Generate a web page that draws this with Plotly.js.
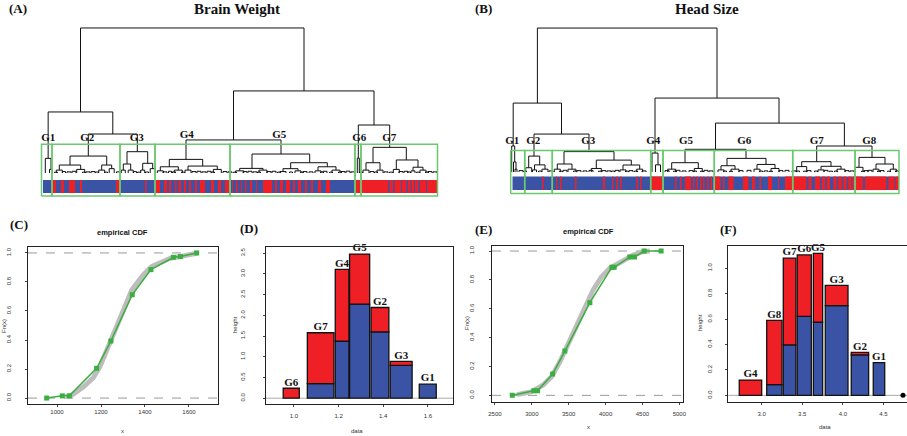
<!DOCTYPE html>
<html><head><meta charset="utf-8">
<script src="https://cdn.plot.ly/plotly-3.0.1.min.js"></script>
<style>html,body{margin:0;padding:0;overflow:hidden;background:#fff}#plot{width:920px;height:436px}</style>
</head><body><div id="plot"></div>
<script>
// ---------- DATA ----------
// Dendrogram A (Brain Weight): merges [xLeft, hLeft, xRight, hRight, height], x = leaf order position
const mergesA = [
 [37.5,42.1,261,56.6,100],[5.15,10.1,69.8,26.9,42.1],[45.3,11.7,94.3,14.7,26.9],[2.3,0,8,2.5,10.1],
 [27,5.5,63.7,5.5,11.7],[16.3,2,37.7,2.5,5.5],[58.7,2,68.7,3,5.5],[84,6.2,104.7,6.7,14.7],
 [80.3,2,87.7,2,6.2],[99.7,2,109.7,3,6.7],[190.5,22.8,331,33.1,56.6],[143,9.4,238,13.1,22.8],
 [126.3,4.3,159.7,4.8,9.4],[117.3,1.5,135.3,2,4.3],[145,2,174.3,2.5,4.8],[209,3.2,266.7,7.1,13.1],
 [196.7,1.5,220,2,3.2],[247.7,3,284.3,4.3,7.1],[275,1.5,293,2,4.3],[240,1,255,1.5,3],
 [315.3,10.3,346.7,17.7,33.1],[314.3,0,316.3,0,10.3],[330,7.1,363.3,9,17.7],[323,2,337,2,7.1],
 [353.3,2.5,375,4,9],[370,1.5,380,2,4]
];
// leaf-level small merges [centre, half width, height]
const fringeA = [
 [8,1.5,2.5],[16.3,3,2],[37.7,4,2.5],[58.7,3,2],[68.7,2.5,3],[80.3,2,2],[87.7,2.5,2],[99.7,2,2],[109.7,2.5,3],
 [117.3,3,1.5],[135.3,4,2],[145,3,2],[174.3,4,2.5],[196.7,4,1.5],[220,4,2],[240,3,1],[255,3,1.5],[275,3,1.5],
 [293,4,2],[323,3,2],[337,3,2],[353.3,3,2.5],[370,2,1.5],[380,3,2],
 [21,1.5,1],[26,2,0.8],[31,2,1.2],[45,2,0.8],[50,2,1],[75,1.5,0.8],[92,1.5,1],[122,2,0.8],[127,1.5,1.2],
 [131,1.5,0.8],[151,2,1],[156,2,1.2],[161,2,0.8],[166,2,1.2],[182,2,1],[187,2,0.8],[202,2,1],[207,2,1.2],
 [212,2,0.8],[226,2,1],[231,2,1.2],[262,2,1],[268,2,0.8],[282,2,1.2],[300,2,1],[305,2,1.3],[310,2,0.8],
 [329,2,1],[343,2,0.8],[358,2,1],[363,2,1.2],[387,2,1],[392,2,0.8],
 [13,1.5,0.6],[41,1.5,0.6],[54,1.5,0.7],[63,1.5,0.6],[96,1.5,0.6],[104,1.5,0.7],[140,1.5,0.6],[170,1.5,0.7],
 [192,1.5,0.6],[216,1.5,0.7],[236,1.5,0.6],[248,1.5,0.7],[259,1.5,0.6],[279,1.5,0.7],[288,1.5,0.6],[297,1.5,0.7],
 [318,1.5,0.6],[333,1.5,0.7],[348,1.5,0.6],[366,1.5,0.7],[375,1.5,0.6],[384,1.5,0.7]
];
const groupEdgesA = [-1.5, 9, 77, 112, 187, 312, 318, 394.5];
const groupNamesA = ['G1','G2','G3','G4','G5','G6','G7'];
const labelXA = [5.3, 44.3, 93.7, 143.7, 236.3, 316.3, 346.3];
const labelHA = [24.3, 24.3, 24.3, 26.2, 26.2, 24.3, 24.3];
const stripeSpanA = [0, 395];
const redStripesA = [
 [10,13],[18,21],[26,32],[37,39],[73,76],[102,103.5],
 [113,117],[121,124],[126,128],[132,133.5],[135.5,138],[141,143],[146,148],[152,154],[157,162],[168,171],[175,178],[182,186],
 [189,190],[193,194.5],[198,199],[202,203.5],[207,209],[213,214],[220,229],[232,234],[237,240],[243,247],[250,252],
 [255,258],[262,264],[268,270],[275,278],[283,287],
 [312,345],[346.5,350],[351.5,358],[359,363.5],[365,367.5],[368.5,371],[372,375.5],[377,383],[384,395]
];

// Dendrogram B (Head Size)
const mergesB = [
 [26.4,47.9,206,51.4,100],[2.2,18.1,50.5,26.4,47.9],[0.7,0,3.7,7,18.1],[2.5,0,5,2,7],
 [23,11.1,78,14.2,26.4],[17.7,3,28.7,5,11.1],[23.5,1.5,34,2,5],[53,5.6,103,8.3,14.2],
 [46.3,2,61,2,5.6],[85.3,2.5,120.3,4.9,8.3],[112,1.5,128.7,2,4.9],[144,13.2,268,34,51.4],
 [141,0,147,5,13.2],[144.5,0,149.5,0,5],[204.5,15.8,333.4,18.1,34],[174,6.5,235,9.5,15.8],
 [160.7,2,187.3,2.5,6.5],[216,4.4,255,5.3,9.5],[210,1.5,224,2,4.4],[246,2,264,2.5,5.3],
 [305.7,7.2,361,10.2,18.1],[290.7,3.8,320,4,7.2],[310,1.5,330,2,4],[348,3.3,374,5.6,10.2],
 [365,2,382.3,2,5.6]
];
const fringeB = [
 [5,1,2],[17.7,3,3],[23.5,2,1.5],[34,3,2],[46.3,3,2],[61,4,2],[85.3,5,2.5],[112,3,1.5],[128.7,3,2],
 [160.7,4,2],[187.3,4,2.5],[210,3,1.5],[224,4,2],[246,3,2],[264,4,2.5],[290.7,5,3.8],[310,3,1.5],
 [330,4,2],[348,4,3.3],[365,3,2],[382.3,3,2],
 [10,2,1],[40,2,0.8],[54,2,1.2],[68,2,1],[74,2,0.8],[80,2,1.2],[93,2,1],[98,2,0.8],[106,2,1.2],[120,2,1],
 [133,2,0.8],[156,2,1],[167,2,1.2],[173,2,0.8],[180,2,1],[195,2,1.2],[200,2,0.8],[230,2,1],[238,2,1.2],
 [255,2,0.8],[270,2,1],[276,2,1.2],[283,2,0.8],[298,2,1],[315,2,1.2],[336,2,1],[341,2,0.8],[355,2,1],
 [359,2,1.2],[371,2,1],[386,1.5,0.8],
 [14,1.5,0.6],[29,1.5,0.7],[50,1.5,0.6],[64,1.5,0.7],[89,1.5,0.6],[102,1.5,0.7],[116,1.5,0.6],[125,1.5,0.7],
 [164,1.5,0.6],[184,1.5,0.7],[191,1.5,0.6],[214,1.5,0.7],[220,1.5,0.6],[250,1.5,0.7],[260,1.5,0.6],
 [287,1.5,0.7],[294,1.5,0.6],[305,1.5,0.7],[320,1.5,0.6],[325,1.5,0.7],[352,1.5,0.6],[368,1.5,0.7],[378,1.5,0.6]
];
const groupEdgesB = [-0.3, 13.7, 41.3, 139.7, 152, 203.3, 281.7, 344, 388];
const groupNamesB = ['G1','G2','G3','G4','G5','G6','G7','G8'];
const labelXB = [1.3, 22.3, 77.3, 142.3, 175, 233.3, 305.7, 358.3];
const labelHB = [21.7, 21.7, 21.7, 21.7, 21.7, 21.7, 21.7, 21.7];
const stripeSpanB = [1.5, 388];
const redStripesB = [
 [31,32.5],[45,46.3],[49,50.5],[64,65.5],[92,94],[101,102.3],[105.5,107],[109,110.5],[125.5,127],[129,130.5],
 [140,151.5],
 [164,165.5],[169,170.5],[174,180],[182,183.5],[185.5,187],[189,190.5],[192,193.5],[196,197.5],[199.5,201],
 [203,209.5],[212,213.5],[217.5,222.5],[232,237.5],[241,244],[248.5,250],[257,261],[267,268],[274,295.5],
 [297.5,300.5],[304,309],[310.7,314],[315.7,319],[322.3,325.7],[327.3,330.7],[332.3,335.7],[337.3,340.5],
 [341.5,352],[354,375.5],[377.5,383.5],[384.5,388]
];

// (C) empirical CDF, brain weight
const cdfBrainX = [953, 1024, 1056, 1180, 1245, 1342, 1427, 1529, 1561, 1635];
const cdfBrainY = [0.0, 0.015, 0.015, 0.205, 0.393, 0.712, 0.885, 0.970, 0.975, 1.0];
const ecdfBrainX = [1040, 1067, 1120, 1165, 1195, 1241, 1271, 1301, 1340, 1362, 1392, 1430, 1468, 1514, 1559, 1620, 1640];
const ecdfBrainY = [0.01, 0.02, 0.078, 0.14, 0.216, 0.39, 0.50, 0.62, 0.745, 0.79, 0.848, 0.906, 0.929, 0.963, 0.975, 0.99, 1.0];
const cdfTicksBrain = [1000, 1200, 1400, 1600];

// (D) group histogram, brain weight
const groupsD = ['G6','G7','G4','G5','G2','G3','G1'];
const leftD  = [0.952, 1.060, 1.185, 1.249, 1.345, 1.431, 1.561];
const rightD = [1.024, 1.179, 1.246, 1.339, 1.425, 1.529, 1.637];
const blueD  = [0, 0.35, 1.38, 2.27, 1.60, 0.79, 0.34];
const totalD = [0.24, 1.58, 3.11, 3.48, 2.19, 0.89, 0.34];
const xTicksD = [1.0, 1.2, 1.4, 1.6];
const yTicksD = [0, 0.5, 1.0, 1.5, 2.0, 2.5, 3.0, 3.5];

// (E) empirical CDF, head size
const cdfHeadX = [2735, 3028, 3078, 3282, 3448, 3787, 4085, 4117, 4329, 4393, 4523, 4753];
const cdfHeadY = [0.0, 0.032, 0.032, 0.148, 0.307, 0.642, 0.887, 0.887, 0.959, 0.959, 1.0, 1.0];
const ecdfHeadX = [2800, 2997, 3154, 3268, 3381, 3471, 3584, 3696, 3832, 3946, 4058, 4238, 4374, 4509, 4600];
const ecdfHeadY = [0.005, 0.025, 0.072, 0.129, 0.233, 0.337, 0.453, 0.58, 0.73, 0.822, 0.88, 0.938, 0.972, 0.996, 1.0];
const cdfTicksHead = [2500, 3000, 3500, 4000, 4500, 5000];
const cdfYTicks = [0, 0.2, 0.4, 0.6, 0.8, 1.0];

// (F) group histogram, head size
const groupsF = ['G4','G8','G7','G6','G5','G3','G2','G1'];
const leftF  = [2.724, 3.062, 3.266, 3.438, 3.636, 3.783, 4.103, 4.374];
const rightF = [3.000, 3.250, 3.422, 3.611, 3.751, 4.063, 4.317, 4.515];
const blueF  = [0, 0.085, 0.397, 0.622, 0.577, 0.706, 0.318, 0.257];
const totalF = [0.12, 0.59, 1.08, 1.105, 1.118, 0.866, 0.339, 0.257];
const extraPointF = [[4.74, 0]];
const xTicksF = [3.0, 3.5, 4.0, 4.5];
const yTicksF = [0, 0.2, 0.4, 0.6, 0.8, 1.0];

// ---------- STYLE / LAYOUT ----------
const W = 920, H = 436;
const RED = '#EE1F25', BLUE = '#3A53A4', GREEN_BOX = '#6CC870', GREEN = '#3AAE3E';
const SERIF = 'Liberation Serif', SANS = 'Liberation Sans';
const dx = (a, b) => [a / W, b / W];
const dy = (top, bot) => [1 - bot / H, 1 - top / H];

const traces = [];

function dendro(merges, fringe, xa, ya) {
  const X = [], Y = [];
  merges.forEach(m => { X.push(m[0], m[0], m[2], m[2], null); Y.push(m[1], m[4], m[4], m[3], null); });
  fringe.forEach(f => { X.push(f[0]-f[1], f[0]-f[1], f[0]+f[1], f[0]+f[1], null); Y.push(0, f[2], f[2], 0, null); });
  traces.push({type:'scatter', mode:'lines', x:X, y:Y, xaxis:xa, yaxis:ya, line:{color:'#111', width:1}, hoverinfo:'skip'});
}
function stripes(span, reds, base, height, xa, ya) {
  traces.push({type:'bar', x:[(span[0]+span[1])/2], width:[span[1]-span[0]], base:[base], y:[height],
    xaxis:xa, yaxis:ya, marker:{color:BLUE, line:{width:0}}, hoverinfo:'skip'});
  traces.push({type:'bar', x:reds.map(r => (r[0]+r[1])/2), width:reds.map(r => r[1]-r[0]),
    base:reds.map(() => base), y:reds.map(() => height), xaxis:xa, yaxis:ya,
    marker:{color:RED, line:{width:0}}, hoverinfo:'skip'});
}
function boxes(edges, top, bot, xa, ya) {
  const X = [], Y = [];
  for (let i = 0; i < edges.length - 1; i++) {
    X.push(edges[i], edges[i+1], edges[i+1], edges[i], edges[i], null);
    Y.push(bot, bot, top, top, bot, null);
  }
  traces.push({type:'scatter', mode:'lines', x:X, y:Y, xaxis:xa, yaxis:ya, line:{color:GREEN_BOX, width:1.5}, hoverinfo:'skip'});
}
function glabels(xs, hs, names, xa, ya) {
  traces.push({type:'scatter', mode:'text', x:xs, y:hs, text:names.map(n => '<b>'+n+'</b>'),
    textposition:'middle center', textfont:{family:SERIF, size:11, color:'#111'},
    xaxis:xa, yaxis:ya, cliponaxis:false, hoverinfo:'skip'});
}

// A
dendro(mergesA, fringeA, 'x', 'y');
stripes(stripeSpanA, redStripesA, -13.8, 9, 'x', 'y');
boxes(groupEdgesA, 19.8, -15.9, 'x', 'y');
glabels(labelXA, labelHA, groupNamesA, 'x', 'y');
// B
dendro(mergesB, fringeB, 'x2', 'y2');
stripes(stripeSpanB, redStripesB, -12.5, 9.4, 'x2', 'y2');
boxes(groupEdgesB, 14.9, -14.9, 'x2', 'y2');
glabels(labelXB, labelHB, groupNamesB, 'x2', 'y2');

// C
traces.push({type:'scatter', mode:'lines', x:ecdfBrainX, y:ecdfBrainY, xaxis:'x3', yaxis:'y3', line:{color:'#BDBDBD', width:5}, hoverinfo:'skip'});
traces.push({type:'scatter', mode:'lines+markers', x:cdfBrainX, y:cdfBrainY, xaxis:'x3', yaxis:'y3',
  line:{color:GREEN, width:1.5}, marker:{symbol:'square', size:5, color:GREEN}, hoverinfo:'skip'});
// E
traces.push({type:'scatter', mode:'lines', x:ecdfHeadX, y:ecdfHeadY, xaxis:'x5', yaxis:'y5', line:{color:'#BDBDBD', width:5}, hoverinfo:'skip'});
traces.push({type:'scatter', mode:'lines+markers', x:cdfHeadX, y:cdfHeadY, xaxis:'x5', yaxis:'y5',
  line:{color:GREEN, width:1.5}, marker:{symbol:'square', size:5, color:GREEN}, hoverinfo:'skip'});

function hist(groups, left, right, blue, total, xa, ya) {
  const idxB = blue.map((v,i) => i).filter(i => blue[i] > 0);
  const idxR = total.map((v,i) => i).filter(i => total[i] - blue[i] > 0.001);
  traces.push({type:'bar', x:idxB.map(i => (left[i]+right[i])/2), width:idxB.map(i => right[i]-left[i]),
    base:idxB.map(() => 0), y:idxB.map(i => blue[i]), xaxis:xa, yaxis:ya,
    marker:{color:BLUE, line:{color:'#111', width:1.3}}, hoverinfo:'skip'});
  traces.push({type:'bar', x:idxR.map(i => (left[i]+right[i])/2), width:idxR.map(i => right[i]-left[i]),
    base:idxR.map(i => blue[i]), y:idxR.map(i => total[i]-blue[i]), xaxis:xa, yaxis:ya,
    marker:{color:RED, line:{color:'#111', width:1.3}}, hoverinfo:'skip'});
  traces.push({type:'scatter', mode:'text', x:left.map((l,i) => (l+right[i])/2), y:total,
    text:groups.map(g => '<b>'+g+'</b>'), textposition:'top center',
    textfont:{family:SERIF, size:11, color:'#111'}, xaxis:xa, yaxis:ya, cliponaxis:false, hoverinfo:'skip'});
}
hist(groupsD, leftD, rightD, blueD, totalD, 'x4', 'y4');
hist(groupsF, leftF, rightF, blueF, totalF, 'x6', 'y6');
traces.push({type:'scatter', mode:'markers', x:extraPointF.map(p => p[0]), y:extraPointF.map(p => p[1]),
  xaxis:'x6', yaxis:'y6', marker:{color:'#000', size:5}, cliponaxis:false, hoverinfo:'skip'});

const hidden = (domain, range, anchor) => ({domain, range, anchor, visible:false, fixedrange:true});
const tickfont = {family:SANS, size:6, color:'#333'};
function axx(domain, range, vals, fmt, standoff, anchor) {
  return {domain, range, anchor, tickmode:'array', tickvals:vals, tickformat:fmt, showgrid:false, zeroline:false,
    showline:true, mirror:true, linecolor:'#222', linewidth:1, ticks:'outside', ticklen:2, tickcolor:'#444',
    tickfont, ticklabelstandoff:standoff};
}
function axy(domain, range, vals, fmt, standoff, anchor) {
  const a = axx(domain, range, vals, fmt, standoff, anchor); a.tickangle = -90; return a;
}

const shapes = [];
function hline(xa, ya, yv, dash, color) {
  shapes.push({type:'line', xref:xa+' domain', x0:0, x1:1, yref:ya, y0:yv, y1:yv, line:{color, width:1, dash}, layer:'below'});
}
hline('x3','y3',0,'dash','#9a9a9a'); hline('x3','y3',1,'dash','#9a9a9a');
hline('x5','y5',0,'dash','#9a9a9a'); hline('x5','y5',1,'dash','#9a9a9a');
hline('x4','y4',0,'solid','#aaaaaa'); hline('x6','y6',0,'solid','#aaaaaa');

const annotations = [];
function ann(text, px, py, font, extra) {
  annotations.push(Object.assign({text, x:px/W, y:1-py/H, xref:'paper', yref:'paper', showarrow:false,
    xanchor:'center', yanchor:'middle', font}, extra || {}));
}
const panelFont = {family:SERIF, size:13, color:'#111', weight:'bold'};
const titleFont = {family:SERIF, size:15, color:'#111', weight:'bold'};
const cdfFont = {family:SANS, size:7.5, color:'#111', weight:'bold'};
const axFont = {family:SANS, size:6, color:'#333'};
ann('(A)', 18, 8, panelFont); ann('Brain Weight', 237, 9, titleFont);
ann('(B)', 484, 8, panelFont); ann('Head Size', 707, 9, titleFont);
ann('(C)', 19, 225, panelFont); ann('empirical CDF', 122, 232, cdfFont);
ann('(D)', 249, 228, panelFont);
ann('(E)', 483, 229, panelFont); ann('empirical CDF', 588, 231, cdfFont);
ann('(F)', 728, 230, panelFont);
ann('Fn(x)', 4, 326, axFont, {textangle:-90}); ann('x', 122, 431, axFont);
ann('height', 235, 325, axFont, {textangle:-90}); ann('data', 357, 431, axFont);
ann('Fn(x)', 467, 323, axFont, {textangle:-90}); ann('x', 588, 427, axFont);
ann('height', 700, 323, axFont, {textangle:-90}); ann('data', 825, 427, axFont);

const layout = {
  width:W, height:H, margin:{l:0,r:0,t:0,b:0}, paper_bgcolor:'#fff', plot_bgcolor:'rgba(0,0,0,0)',
  showlegend:false, barmode:'overlay', shapes, annotations,
  xaxis: hidden(dx(38,441), [-5,398], 'y'),    yaxis: hidden(dy(20,200), [-18.6,105.5], 'x'),
  xaxis2: hidden(dx(506,904), [-5,393], 'y2'), yaxis2: hidden(dy(20,200), [-19.4,105.6], 'x2'),
  xaxis3: axx(dx(28,218), [868,1732], cdfTicksBrain, 'd', 0, 'y3'),
  yaxis3: axy(dy(247,404), [-0.041,1.041], cdfYTicks, '.1f', 12, 'x3'),
  xaxis4: axx(dx(266,453), [0.875,1.712], xTicksD, '.1f', 4, 'y4'),
  yaxis4: axy(dy(247,404), [-0.14,3.65], yTicksD, '.1f', 16, 'x4'),
  xaxis5: axx(dx(492,683), [2460,5050], cdfTicksHead, 'd', 4, 'y5'),
  yaxis5: axy(dy(245.7,401.7), [-0.044,1.037], cdfYTicks, '.1f', 13, 'x5'),
  xaxis6: axx(dx(728.3,915), [2.589,4.888], xTicksF, '.1f', 4, 'y6'),
  yaxis6: axy(dy(245.7,401.7), [-0.05,1.178], yTicksF, '.1f', 11, 'x6')
};
Plotly.newPlot('plot', traces, layout, {staticPlot:true, displayModeBar:false});
</script></body></html>
